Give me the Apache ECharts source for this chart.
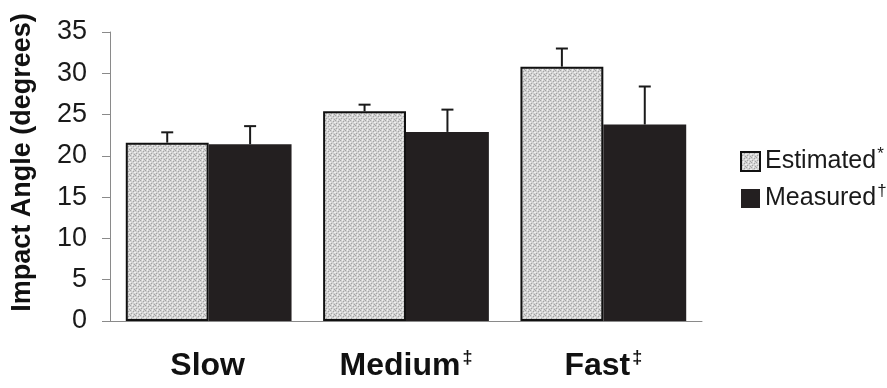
<!DOCTYPE html>
<html>
<head>
<meta charset="utf-8">
<script src="https://cdn.jsdelivr.net/npm/echarts@6/dist/echarts.min.js"></script>
<style>
html,body{margin:0;padding:0;background:#fff;}
#chart{width:887px;height:388px;}
</style>
</head>
<body>
<div id="chart"></div>
<script>
// ---- data ----
const categories = ['Slow', 'Medium', 'Fast'];
const categoryMarks = ['', '\u2021', '\u2021'];
const estimated = [21.6, 25.4, 30.8];
const estimatedErr = [1.25, 0.8, 2.2];
const measured = [21.4, 22.9, 23.8];
const measuredErr = [2.2, 2.7, 4.6];
const yMin = 0, yMax = 35, yStep = 5;
const seriesNames = ['Estimated', 'Measured'];
const seriesMarks = ['*', '\u2020'];

// ---- texture for the light bars ----
function stipple() {
  const c = document.createElement('canvas');
  c.width = 5; c.height = 5;
  const g = c.getContext('2d');
  g.fillStyle = '#d2d2d2'; g.fillRect(0, 0, 5, 5);
  g.fillStyle = '#a4a4a4';
  g.fillRect(0, 0, 1, 1); g.fillRect(3, 1, 1, 1); g.fillRect(1, 3, 1, 1); g.fillRect(4, 4, 1, 1);
  g.fillStyle = '#efefef';
  g.fillRect(2, 0, 1, 1); g.fillRect(0, 2, 1, 1); g.fillRect(4, 2, 1, 1); g.fillRect(2, 4, 1, 1);
  return c;
}
const lightFill = { image: stipple(), repeat: 'repeat' };
const darkFill = '#231f20';

const FONT = "'Liberation Sans', Arial, Helvetica, sans-serif";
const chart = echarts.init(document.getElementById('chart'), null, { renderer: 'canvas' });

function errSeries(vals, errs, offset) {
  return {
    type: 'custom',
    z: 5,
    silent: true,
    data: vals.map((v, i) => [i, v, errs[i]]),
    renderItem: function (params, api) {
      const cat = api.value(0), v = api.value(1), e = api.value(2);
      const base = api.coord([cat, v]);
      const top = api.coord([cat, v + e]);
      const w = api.size([1, 0])[0];
      const x = base[0] + offset * w;
      const st = { stroke: '#1a1a1a', lineWidth: 2 };
      return {
        type: 'group',
        children: [
          { type: 'line', shape: { x1: x, y1: base[1], x2: x, y2: top[1] }, style: st },
          { type: 'line', shape: { x1: x - 6, y1: top[1], x2: x + 6, y2: top[1] }, style: st }
        ]
      };
    }
  };
}

chart.setOption({
  animation: false,
  backgroundColor: '#fff',
  textStyle: { fontFamily: FONT },
  grid: { left: 110, right: 185, top: 32, bottom: 67, containLabel: false, outerBoundsMode: 'none' },
  legend: {
    data: seriesNames,
    orient: 'vertical',
    left: 735,
    top: 141,
    itemWidth: 19,
    itemHeight: 19,
    itemGap: 9,
    icon: 'rect',
    formatter: function (name) {
      const i = seriesNames.indexOf(name);
      return '{n|' + name + '}{s|' + seriesMarks[i] + '}';
    },
    textStyle: {
      color: '#1a1a1a',
      rich: {
        n: { fontFamily: FONT, fontSize: 25, color: '#1a1a1a', lineHeight: 28 },
        s: { fontFamily: FONT, fontSize: 17, color: '#1a1a1a', verticalAlign: 'top', padding: [0, 0, 14, 1] }
      }
    }
  },
  xAxis: {
    type: 'category',
    data: categories,
    axisLine: { show: true, lineStyle: { color: '#8a8a8a', width: 1 } },
    axisTick: { show: false },
    axisLabel: {
      margin: 28,
      formatter: function (v, i) {
        return '{c|' + v + '}{m|' + categoryMarks[i] + '}';
      },
      rich: {
        c: { fontFamily: FONT, fontSize: 32, fontWeight: 'bold', color: '#111' },
        m: { fontFamily: FONT, fontSize: 18, fontWeight: 'bold', color: '#111', verticalAlign: 'top', padding: [0, 0, 16, 2] }
      }
    }
  },
  yAxis: {
    type: 'value',
    min: yMin,
    max: yMax,
    interval: yStep,
    name: 'Impact Angle (degrees)',
    nameLocation: 'middle',
    nameGap: 74,
    nameRotate: 90,
    nameTextStyle: { fontFamily: FONT, fontSize: 27, fontWeight: 'bold', color: '#111', padding: [0, 0, 0, 28] },
    axisLine: { show: true, lineStyle: { color: '#8a8a8a', width: 1 } },
    axisTick: { show: true, inside: false, length: 8, lineStyle: { color: '#8a8a8a' } },
    axisLabel: { margin: 23, fontFamily: FONT, fontSize: 27, color: '#1a1a1a' },
    splitLine: { show: false }
  },
  series: [
    {
      name: seriesNames[0],
      type: 'bar',
      data: estimated,
      barGap: '0%',
      barCategoryGap: '16%',
      itemStyle: { color: lightFill, borderColor: '#111', borderWidth: 2 }
    },
    {
      name: seriesNames[1],
      type: 'bar',
      data: measured,
      barGap: '0%',
      barCategoryGap: '16%',
      itemStyle: { color: darkFill, borderColor: darkFill, borderWidth: 0 }
    },
    errSeries(estimated, estimatedErr, -0.21),
    errSeries(measured, measuredErr, 0.21)
  ]
});
</script>
</body>
</html>
